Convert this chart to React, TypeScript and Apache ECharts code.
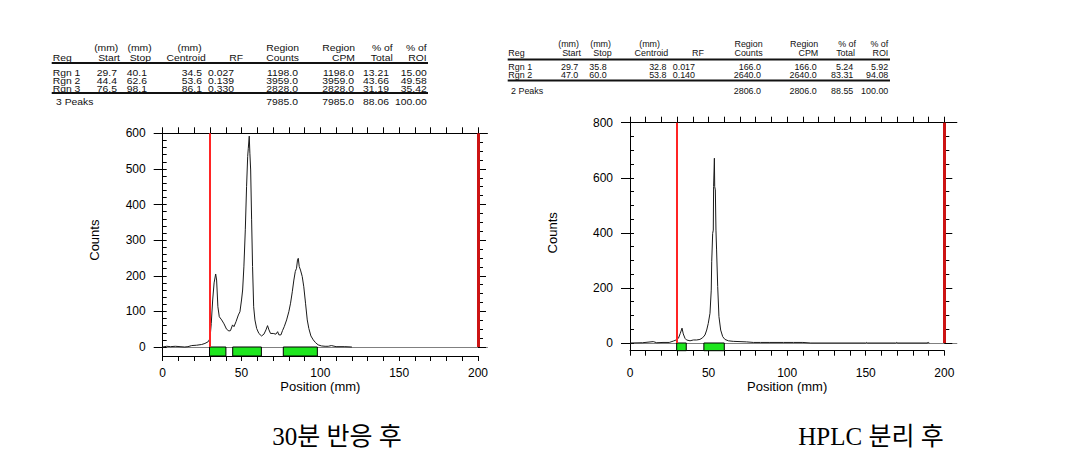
import React, { useEffect, useRef } from "react";
import * as echarts from "echarts";

const FONT = "'Liberation Sans', Arial, Helvetica, sans-serif";
const SERIF_CJK = "'Liberation Serif', 'Noto Sans CJK KR', serif";
const X_MAX = 200;

// ---------- Chart 1 (30분 반응 후) ----------
const leftPositions = [
  0, 2.5, 5, 8, 11, 14, 16, 18.4, 21.5, 24.7, 26.8, 28.9, 30, 30.8, 31.7, 32.6, 33.6, 34.2, 35, 35.9,
  37.4, 38.9, 40.5, 42, 43, 44.3, 45.2, 46.5, 48, 49, 50, 50.7, 51.5, 52.4, 53.2, 53.9, 54.3, 54.9,
  55.3, 55.8, 56.4, 57, 57.7, 58.5, 59.6, 61, 62.7, 64.2, 65.5, 66.5, 67.4, 68.4, 70.1, 71.8, 72.9,
  73.7, 75, 76, 77.1, 78.6, 80, 81.1, 82.2, 83.2, 84.1, 84.9, 85.5, 86, 86.6, 87.4, 88.5, 89.5, 90.6,
  91.7, 92.7, 94, 95.5, 97, 98.6, 100.7, 103, 105, 107, 110, 115.5, 120,
];
const leftCounts = [
  0, 2, 1, 2, 1, 0, 1, 4, 5, 7, 10, 15, 24, 66, 132, 180, 205, 188, 113, 85,
  76, 65, 50, 45, 46, 62, 57, 71, 90, 99, 132, 160, 225, 329, 450, 535, 558, 592,
  544, 497, 357, 226, 113, 76, 52, 38, 31, 36, 48, 60, 48, 38, 38, 36, 43,
  34, 34, 46, 57, 76, 99, 123, 155, 188, 212, 221, 244, 249, 226, 216, 198, 169, 123,
  76, 52, 31, 20, 12, 6, 3, 2, 2, 4, 1, 1, 0,
];
const leftRegionStart = [29.7, 44.4, 76.5];
const leftRegionStop = [40.1, 62.6, 98.1];
const leftRoi = [30, 200];

// ---------- Chart 2 (HPLC 분리 후) ----------
const rightPositions = [
  0, 8, 14.8, 17, 21, 25, 27.6, 29.3, 30.8, 32, 33.1, 33.9, 35, 36, 38.2, 40.3, 42.4, 44.5, 46.2,
  47.7, 48.8, 49.8, 50.9, 51.7, 52, 52.6, 53, 53.2, 53.7, 53.9, 54.3, 54.7, 55.1, 55.8, 56.6, 57.7,
  59, 60.4, 62.6, 65.7, 70, 74.2, 78.5, 83, 89, 97.6, 104, 110, 115, 150, 150.6, 151.2, 169, 169.7,
  170.4, 189, 189.8, 190.5,
];
const rightCounts = [
  0, 1, 5, 1, 2, 2, 7, 11, 17, 35, 54, 33, 17, 11, 8, 11, 11, 13, 19,
  29, 47, 71, 108, 192, 295, 398, 410, 568, 671, 568, 556, 410, 338, 205, 96, 47,
  23, 13, 8, 6, 5, 4, 2, 2, 2, 2, 2, 2, 0, 0, 2, 0, 0, 2,
  0, 0, 2, 0,
];
const rightRegionStart = [29.7, 47.0];
const rightRegionStop = [35.8, 60.0];
const rightRoi = [29.7, 200];

// ---------- Tables ----------
const tableHeader1 = ["", "(mm)", "(mm)", "(mm)", "", "Region", "Region", "% of", "% of"];
const tableHeader2 = ["Reg", "Start", "Stop", "Centroid", "RF", "Counts", "CPM", "Total", "ROI"];
const leftTableRows = [
  ["Rgn 1", "29.7", "40.1", "34.5", "0.027", "1198.0", "1198.0", "13.21", "15.00"],
  ["Rgn 2", "44.4", "62.6", "53.6", "0.139", "3959.0", "3959.0", "43.66", "49.58"],
  ["Rgn 3", "76.5", "98.1", "86.1", "0.330", "2828.0", "2828.0", "31.19", "35.42"],
];
const leftTableTotal = ["3 Peaks", "", "", "", "", "7985.0", "7985.0", "88.06", "100.00"];
const rightTableRows = [
  ["Rgn 1", "29.7", "35.8", "32.8", "0.017", "166.0", "166.0", "5.24", "5.92"],
  ["Rgn 2", "47.0", "60.0", "53.8", "0.140", "2640.0", "2640.0", "83.31", "94.08"],
];
const rightTableTotal = ["2 Peaks", "", "", "", "", "2806.0", "2806.0", "88.55", "100.00"];

const captions = ["30분 반응 후", "HPLC 분리 후"];

// ---------- Layout (positions only) ----------
const LAYOUTS = [
  {
    left: 162.7, top: 133.3, width: 315.3, hA: 213.7, hB: 9, xExt: 206, yMin: -25, yMax: 600,
    majorLeft: 100, minorLeft: 20, majorRight: 100, minorRightSplit: 4,
    labelMargin: 11, nameGap: 22, countsGap: 62,
  },
  {
    left: 630, top: 122.7, width: 314.3, hA: 220.3, hB: 7.7, xExt: 208, yMin: -28, yMax: 800,
    majorLeft: 200, minorLeft: 50, majorRight: 200, minorRightSplit: 4,
    labelMargin: 16, nameGap: 28, countsGap: 71,
  },
];

const TABLE_LAYOUTS = [
  {
    regX: 52.7, totalX: 56, scaleX: 1.22,
    h1x: [0, 118.3, 151.7, 201.7, 0, 299, 355, 392.7, 426.7],
    h2x: [52.7, 120, 151, 205.7, 243, 299, 355, 392.7, 426.7],
    vx: [52.7, 117, 147, 202, 234, 298, 354, 389, 426.7],
    yH1: 48, yH2: 57.5, yLine1: 63, yRows: [72.5, 80.5, 88.5], yLine2: 93, yTotal: 102,
    lineX: [51.7, 428],
  },
  {
    regX: 508.3, totalX: 511, scaleX: 1.05,
    h1x: [0, 579, 611, 660, 0, 762.7, 818.3, 856, 888.3],
    h2x: [508.3, 581, 611.7, 668.3, 704, 762.7, 818.3, 855, 888.3],
    vx: [508.3, 578.3, 606.7, 666.5, 695, 761, 816.7, 853.3, 888.3],
    yH1: 44.5, yH2: 53.5, yLine1: 59.5, yRows: [67.5, 75], yLine2: 80.5, yTotal: 91,
    lineX: [507.7, 890],
  },
];

const CAPTION_POS = [
  { x: 337, y: 436 },
  { x: 871, y: 436 },
];

const TABLE_FONT = 8.5;

function txt(x: number, y: number, text: string, size: number, align: string, family = FONT, scaleX = 1) {
  return {
    type: "text",
    x,
    y,
    scaleX,
    silent: true,
    style: {
      text,
      fontSize: size,
      fontFamily: family,
      fill: "#111",
      align,
      verticalAlign: "middle",
      textAlign: align,
      textVerticalAlign: "middle",
    },
  };
}

function tableGraphics(tl: any, rows: string[][], total: string[]) {
  const els: any[] = [];
  const s = tl.scaleX;
  tableHeader1.forEach((t, i) => {
    if (t) els.push(txt(tl.h1x[i], tl.yH1, t, TABLE_FONT, "right", FONT, s));
  });
  tableHeader2.forEach((t, i) => {
    els.push(txt(tl.h2x[i], tl.yH2, t, TABLE_FONT, i === 0 ? "left" : "right", FONT, s));
  });
  rows.forEach((r, ri) => {
    r.forEach((t, i) => {
      els.push(txt(tl.vx[i], tl.yRows[ri], t, TABLE_FONT, i === 0 ? "left" : "right", FONT, s));
    });
  });
  total.forEach((t, i) => {
    if (!t) return;
    els.push(txt(i === 0 ? tl.totalX : tl.vx[i], tl.yTotal, t, TABLE_FONT, i === 0 ? "left" : "right", FONT, s));
  });
  [tl.yLine1, tl.yLine2].forEach((y) => {
    els.push({
      type: "line",
      silent: true,
      shape: { x1: tl.lineX[0], y1: y, x2: tl.lineX[1], y2: y },
      style: { stroke: "#111", lineWidth: 2 },
    });
  });
  return els;
}

function buildOption() {
  const grid: any[] = [];
  const xAxis: any[] = [];
  const yAxis: any[] = [];
  const series: any[] = [];
  const labelStyle = { color: "#000", fontSize: 12, fontFamily: FONT };
  const nameStyle = { color: "#000", fontSize: 13, fontFamily: FONT };

  const charts = [
    { L: LAYOUTS[0], pos: leftPositions, counts: leftCounts, rs: leftRegionStart, re: leftRegionStop, roi: leftRoi },
    { L: LAYOUTS[1], pos: rightPositions, counts: rightCounts, rs: rightRegionStart, re: rightRegionStop, roi: rightRoi },
  ];

  charts.forEach((c) => {
    const L = c.L;
    const gA = grid.length;
    grid.push({ left: L.left, top: L.top, width: L.width, height: L.hA, containLabel: false, outerBoundsMode: "none" });
    const gB = grid.length;
    grid.push({ left: L.left, top: L.top + L.hA, width: L.width, height: L.hB, containLabel: false, outerBoundsMode: "none" });
    const gC = grid.length;
    grid.push({ left: L.left, top: L.top, width: (L.width * L.xExt) / X_MAX, height: L.hA, containLabel: false, outerBoundsMode: "none" });

    // grid A x axes
    const xA = xAxis.length;
    xAxis.push({ type: "value", gridIndex: gA, position: "bottom", min: 0, max: X_MAX, show: false });
    xAxis.push({
      type: "value", gridIndex: gA, position: "top", min: 0, max: X_MAX, interval: 10,
      axisLine: { show: false, onZero: false },
      axisTick: { show: true, inside: false, length: 6, lineStyle: { color: "#000", width: 1 } },
      axisLabel: { show: false }, splitLine: { show: false },
    });
    // grid B bottom axis
    const xB = xAxis.length;
    xAxis.push({
      type: "value", gridIndex: gB, position: "bottom", min: 0, max: X_MAX, interval: 10,
      axisLine: { show: true, onZero: false, lineStyle: { color: "#000", width: 1 } },
      axisTick: { show: true, inside: false, length: 5, lineStyle: { color: "#000", width: 1 } },
      axisLabel: {
        show: true, margin: L.labelMargin, ...labelStyle,
        formatter: (v: number) => (v % 50 === 0 ? String(v) : ""),
      },
      splitLine: { show: false },
      name: "Position (mm)", nameLocation: "middle", nameGap: L.nameGap, nameTextStyle: nameStyle,
    });
    // grid C: top frame line and zero line
    xAxis.push({
      type: "value", gridIndex: gC, position: "top", min: 0, max: L.xExt,
      axisLine: { show: true, onZero: false, lineStyle: { color: "#000", width: 1 } },
      axisTick: { show: false }, axisLabel: { show: false }, splitLine: { show: false },
    });
    const xC = xAxis.length;
    xAxis.push({
      type: "value", gridIndex: gC, position: "bottom", min: 0, max: L.xExt,
      axisLine: { show: true, onZero: false, lineStyle: { color: "#808080", width: 1 } },
      axisTick: { show: false }, axisLabel: { show: false }, splitLine: { show: false },
    });

    // grid A y axes
    const yA = yAxis.length;
    yAxis.push({
      type: "value", gridIndex: gA, position: "left", min: 0, max: L.yMax, interval: L.majorLeft,
      axisLine: { show: true, onZero: false, lineStyle: { color: "#000", width: 1 } },
      axisTick: { show: true, inside: false, length: 9, lineStyle: { color: "#000", width: 1 } },
      axisLabel: { show: true, margin: 17, ...labelStyle },
      splitLine: { show: false },
      name: "Counts", nameLocation: "middle", nameRotate: 90, nameGap: L.countsGap, nameTextStyle: nameStyle,
    });
    yAxis.push({
      type: "value", gridIndex: gA, position: "left", min: 0, max: L.yMax, interval: L.minorLeft,
      axisLine: { show: false, onZero: false },
      axisTick: { show: true, inside: true, length: 4, lineStyle: { color: "#000", width: 1 } },
      axisLabel: { show: false }, splitLine: { show: false },
    });
    yAxis.push({
      type: "value", gridIndex: gA, position: "right", min: 0, max: L.yMax, interval: L.majorRight,
      axisLine: { show: false, onZero: false },
      axisTick: { show: true, inside: false, length: 8, lineStyle: { color: "#000", width: 1 } },
      minorTick: { show: true, splitNumber: L.minorRightSplit, length: 5, lineStyle: { color: "#000", width: 1 } },
      axisLabel: { show: false }, splitLine: { show: false }, minorSplitLine: { show: false },
    });
    const yB = yAxis.length;
    yAxis.push({
      type: "value", gridIndex: gB, position: "left", min: L.yMin, max: 0,
      axisLine: { show: true, onZero: false, lineStyle: { color: "#000", width: 1 } },
      axisTick: { show: false }, axisLabel: { show: false }, splitLine: { show: false },
    });
    const yC = yAxis.length;
    yAxis.push({ type: "value", gridIndex: gC, min: 0, max: L.yMax, show: false });

    series.push({
      type: "line",
      xAxisIndex: xA,
      yAxisIndex: yA,
      data: c.pos.map((p, i) => [p, c.counts[i]]),
      showSymbol: false,
      symbol: "none",
      clip: false,
      lineStyle: { color: "#1a1a1a", width: 1 },
      z: 3,
      markLine: {
        silent: true,
        symbol: ["none", "none"],
        label: { show: false },
        animation: false,
        data: [
          { xAxis: c.roi[0], lineStyle: { color: "#ff2424", width: 2, type: "solid" } },
          { xAxis: c.roi[1], lineStyle: { color: "#cc1414", width: 3, type: "solid" } },
        ],
      },
    });
    series.push({
      type: "line",
      xAxisIndex: xB,
      yAxisIndex: yB,
      data: [],
      showSymbol: false,
      markArea: {
        silent: true,
        label: { show: false },
        itemStyle: { color: "#1ee61e", borderColor: "#000", borderWidth: 1, opacity: 1 },
        data: c.rs.map((s, i) => [
          { coord: [s, L.yMin] },
          { coord: [c.re[i], 0] },
        ]),
      },
    });
    series.push({ type: "line", xAxisIndex: xC, yAxisIndex: yC, data: [], showSymbol: false });
  });

  const graphic: any[] = [
    ...tableGraphics(TABLE_LAYOUTS[0], leftTableRows, leftTableTotal),
    ...tableGraphics(TABLE_LAYOUTS[1], rightTableRows, rightTableTotal),
    ...captions.map((t, i) => ({
      type: "text",
      x: CAPTION_POS[i].x,
      y: CAPTION_POS[i].y,
      silent: true,
      style: {
        text: t,
        fontSize: 25,
        fontFamily: SERIF_CJK,
        fill: "#000",
        align: "center",
        verticalAlign: "middle",
        textAlign: "center",
        textVerticalAlign: "middle",
      },
    })),
  ];

  return {
    animation: false,
    backgroundColor: "#ffffff",
    grid,
    xAxis,
    yAxis,
    series,
    graphic,
  };
}

export default function App() {
  const ref = useRef<HTMLDivElement>(null);
  useEffect(() => {
    if (!ref.current) return;
    const chart = echarts.init(ref.current, undefined, { renderer: "svg" });
    chart.setOption(buildOption() as any);
    return () => chart.dispose();
  }, []);
  return (
    <div
      ref={ref}
      style={{ position: "absolute", left: 0, top: 0, width: 1069, height: 465, background: "#fff" }}
    />
  );
}
